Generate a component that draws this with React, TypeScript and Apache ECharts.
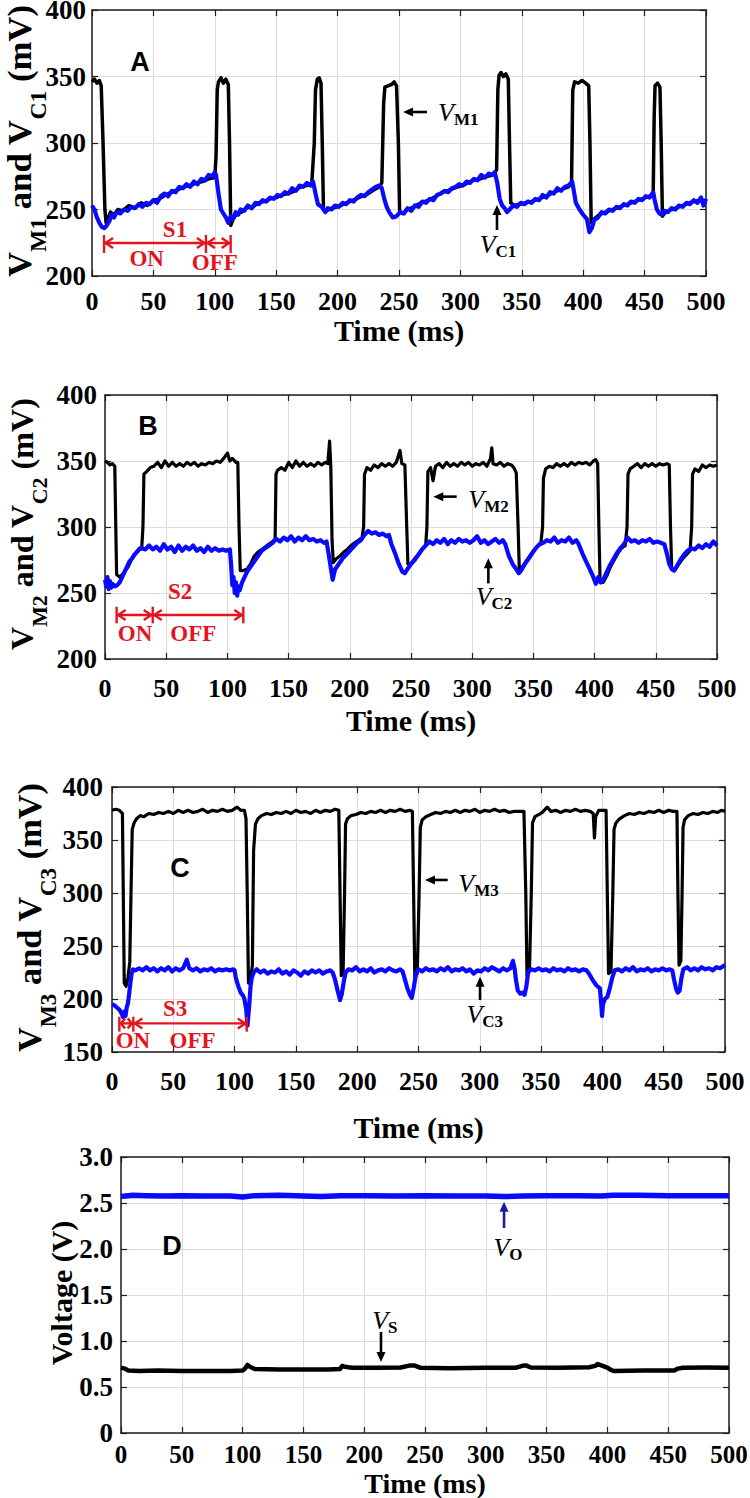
import React, { useEffect, useRef } from "react";
import * as echarts from "echarts";

const SERIF = "Liberation Serif";
const SANS = "Liberation Sans";

// ---------- axis ranges / ticks ----------
const timeRange = [0, 500];
const timeStep = 50;
const yRangeA = [200, 400, 50];
const yRangeB = [200, 400, 50];
const yRangeC = [150, 400, 50];
const yRangeD = [0, 3, 0.5];

// ---------- Panel A ----------
const vM1: [number, number][] = [
  [0, 346], [2, 348], [4, 345], [6, 347], [7.5, 343], [9, 300], [10.5, 250], [11.5, 240], [13, 243], [15, 248],
  [18, 246], [21, 250], [25, 249], [30, 253], [35, 251], [40, 255], [45, 253], [50, 257], [55, 258], [60, 261],
  [65, 263], [70, 265], [75, 267], [80, 268], [85, 270], [90, 271], [95, 273], [100, 274], [101, 290], [102, 340],
  [103, 346], [105, 349], [107, 345], [109, 348], [111, 344], [112, 300], [113, 238], [115, 243], [118, 247], [122, 248],
  [126, 252], [130, 251], [135, 255], [140, 256], [145, 258], [150, 259], [155, 261], [160, 262], [165, 264], [170, 267],
  [175, 268], [179, 270], [181, 300], [182, 340], [183.5, 348], [185, 349], [186.5, 345], [187.5, 300], [188.5, 250], [191, 249],
  [195, 251], [200, 252], [205, 254], [210, 256], [215, 258], [220, 260], [225, 262], [230, 265], [234, 267], [236, 270],
  [237.5, 330], [238.5, 342], [241, 343], [244, 344], [246, 346], [248, 343], [249.5, 300], [250.5, 248], [253, 247], [257, 250],
  [262, 252], [268, 255], [274, 257], [280, 260], [286, 263], [292, 265], [298, 267], [304, 269], [310, 272], [316, 273],
  [322, 275], [327, 276], [329.5, 280], [330.5, 340], [331.5, 351], [333, 353], [335, 350], [337, 352], [339, 348], [340, 300],
  [341, 255], [344, 253], [348, 254], [353, 255], [358, 256], [364, 258], [370, 260], [376, 263], [382, 265], [388, 267],
  [390.5, 270], [391.5, 340], [393, 346], [396, 345], [399, 347], [402, 345], [404.5, 343], [405.5, 300], [406.5, 240], [409, 243],
  [413, 246], [418, 248], [424, 250], [430, 252], [436, 254], [442, 256], [448, 258], [454, 260], [457, 262], [457.8, 320],
  [458.5, 343], [460.5, 345], [462.5, 342], [463.5, 300], [464.5, 245], [467, 248], [472, 250], [478, 252], [484, 254], [490, 256],
  [495, 257], [500, 256],
];
const vC1: [number, number][] = [
  [0, 253], [2, 250], [4, 244], [6, 240], [8, 237], [10, 236], [12, 238], [14, 241], [16, 246], [18, 244],
  [20, 248], [23, 247], [26, 250], [29, 249], [32, 252], [35, 251], [38, 254], [41, 252], [44, 255], [47, 254],
  [50, 257], [53, 255], [56, 260], [59, 262], [62, 260], [65, 264], [68, 263], [71, 267], [74, 266], [77, 269],
  [80, 267], [83, 271], [86, 269], [89, 273], [92, 272], [95, 276], [98, 275], [100, 278], [101, 276], [103, 262],
  [105, 250], [107, 247], [109, 244], [111, 240], [113, 245], [115, 243], [117, 248], [119, 246], [121, 250], [124, 249],
  [127, 253], [130, 251], [133, 255], [136, 254], [139, 257], [142, 256], [145, 259], [148, 258], [151, 261], [154, 260],
  [157, 263], [160, 262], [163, 266], [166, 264], [169, 268], [172, 267], [175, 270], [178, 268], [180, 271], [182, 262],
  [184, 254], [187, 252], [190, 248], [192, 251], [195, 250], [198, 253], [201, 252], [204, 255], [207, 254], [210, 257],
  [213, 256], [216, 259], [219, 261], [222, 260], [225, 263], [228, 265], [231, 267], [234, 268], [236, 266], [238, 258],
  [240, 252], [242, 248], [245, 244], [248, 245], [251, 248], [254, 247], [257, 251], [260, 249], [263, 253], [266, 252],
  [269, 256], [272, 255], [275, 258], [278, 257], [281, 261], [284, 262], [287, 264], [290, 263], [293, 266], [296, 267],
  [299, 269], [302, 268], [305, 271], [308, 270], [311, 273], [314, 272], [317, 276], [320, 274], [323, 277], [326, 276],
  [328, 278], [330, 270], [332, 258], [334, 253], [336, 251], [338, 248], [340, 250], [343, 253], [346, 252], [349, 255],
  [352, 254], [355, 256], [358, 255], [361, 258], [364, 257], [367, 261], [370, 259], [373, 263], [376, 262], [379, 266],
  [382, 264], [385, 267], [388, 268], [391, 271], [392, 266], [394, 255], [397, 250], [400, 246], [403, 243], [405, 233],
  [407, 236], [409, 242], [412, 244], [415, 248], [418, 247], [421, 250], [424, 249], [427, 252], [430, 251], [433, 254],
  [436, 253], [439, 256], [442, 255], [445, 258], [448, 257], [451, 260], [454, 259], [457, 263], [458, 258], [460, 250],
  [462, 247], [464, 246], [466, 249], [469, 248], [472, 251], [475, 250], [478, 253], [481, 252], [484, 255], [487, 254],
  [490, 257], [493, 255], [496, 259], [498, 253], [500, 258],
];

// ---------- Panel B ----------
const vM2: [number, number][] = [
  [0, 350], [2, 349], [4, 347], [6, 348], [8, 346], [8.8, 300], [9.5, 264], [12, 262], [14, 264], [16, 266],
  [19, 270], [22, 276], [25, 280], [28, 284], [30, 284], [31, 300], [31.8, 340], [34, 342], [37, 345], [40, 346],
  [43, 349], [46, 345], [49, 350], [52, 346], [55, 349], [58, 346], [61, 348], [64, 346], [67, 349], [70, 347],
  [73, 349], [76, 346], [79, 348], [82, 347], [85, 349], [88, 348], [91, 350], [94, 349], [97, 352], [100, 356],
  [102, 350], [104, 352], [107, 349], [108.5, 349], [109.5, 300], [110.5, 267], [113, 267], [116, 268], [119, 272], [122, 278],
  [125, 281], [128, 283], [131, 285], [134, 287], [137, 289], [139, 291], [139.7, 340], [141, 343], [144, 345], [147, 343],
  [150, 349], [153, 345], [156, 350], [159, 346], [162, 349], [165, 346], [168, 348], [171, 346], [174, 349], [177, 347],
  [180, 349], [182, 348], [183.5, 365], [184.5, 345], [185.5, 290], [186.5, 273], [189, 276], [192, 278], [195, 281], [198, 283],
  [201, 286], [204, 288], [207, 290], [210, 292], [211.3, 300], [212, 340], [214, 345], [217, 343], [220, 347], [223, 345],
  [226, 348], [229, 346], [232, 348], [235, 346], [238, 349], [241, 358], [242.5, 348], [245, 347], [246.5, 300], [247.5, 272],
  [250, 272], [253, 276], [256, 279], [259, 283], [262, 286], [263, 300], [263.8, 342], [266, 345], [268, 335], [270, 346],
  [273, 348], [276, 345], [279, 349], [282, 346], [285, 348], [288, 346], [291, 349], [294, 347], [297, 349], [300, 346],
  [303, 348], [306, 347], [309, 349], [312, 346], [315, 352], [316, 360], [317, 348], [320, 347], [323, 349], [326, 346],
  [329, 348], [332, 347], [334, 345], [336, 341], [337.5, 300], [338.5, 267], [341, 270], [344, 274], [347, 278], [350, 282],
  [353, 285], [356, 287], [357.5, 300], [358.2, 337], [360, 344], [363, 346], [366, 345], [369, 348], [372, 346], [375, 348],
  [378, 346], [381, 349], [384, 347], [387, 349], [390, 348], [393, 349], [396, 347], [399, 350], [401, 351], [402.5, 348],
  [403.5, 300], [404.5, 258], [407, 258], [410, 263], [413, 270], [416, 275], [419, 280], [422, 284], [425, 286], [426.5, 300],
  [427.3, 340], [429, 344], [432, 346], [435, 348], [438, 345], [441, 348], [444, 346], [447, 348], [450, 346], [453, 348],
  [456, 347], [459, 348], [461, 347], [462, 300], [463, 268], [466, 268], [469, 272], [472, 276], [475, 279], [478, 282],
  [479.3, 300], [480, 340], [482, 344], [485, 342], [488, 347], [491, 345], [494, 347], [497, 346], [500, 347],
];
const vC2: [number, number][] = [
  [0, 260], [1, 255], [2, 262], [3, 253], [4, 259], [5, 254], [6, 257], [8, 255], [10, 256], [12, 258],
  [14, 262], [16, 266], [18, 270], [20, 274], [22, 276], [24, 279], [26, 281], [28, 283], [30, 284], [33, 283],
  [36, 286], [39, 283], [42, 285], [45, 282], [48, 287], [51, 283], [54, 285], [57, 281], [60, 286], [63, 282],
  [66, 285], [69, 283], [72, 286], [75, 282], [78, 284], [81, 281], [84, 285], [87, 282], [90, 284], [93, 282],
  [96, 283], [99, 282], [102, 283], [103, 272], [104, 256], [105, 262], [106, 250], [107, 258], [108, 248], [109, 255],
  [110, 252], [112, 258], [114, 262], [116, 266], [119, 270], [122, 274], [125, 278], [128, 282], [131, 284], [134, 286],
  [137, 288], [140, 291], [143, 289], [146, 292], [149, 290], [152, 293], [155, 289], [158, 292], [161, 290], [164, 293],
  [167, 290], [170, 291], [173, 289], [176, 290], [179, 288], [181, 289], [183, 278], [185, 266], [186, 260], [188, 268],
  [191, 272], [194, 276], [197, 279], [200, 282], [203, 285], [206, 288], [209, 290], [212, 294], [215, 297], [218, 295],
  [221, 296], [224, 294], [227, 295], [230, 293], [232, 294], [234, 287], [237, 280], [240, 272], [243, 266], [245, 265],
  [247, 268], [250, 272], [253, 275], [256, 279], [259, 283], [262, 286], [265, 289], [268, 287], [271, 290], [274, 288],
  [277, 291], [280, 287], [283, 290], [286, 288], [289, 291], [292, 289], [295, 290], [298, 288], [301, 290], [304, 293],
  [307, 288], [310, 290], [313, 287], [316, 289], [319, 291], [322, 288], [325, 290], [327, 287], [330, 278], [333, 272],
  [336, 268], [338, 265], [340, 267], [343, 272], [346, 276], [349, 280], [352, 284], [355, 287], [358, 288], [361, 290],
  [364, 289], [367, 292], [370, 288], [373, 290], [376, 289], [379, 292], [382, 288], [385, 290], [387, 287], [390, 280],
  [393, 274], [396, 268], [399, 262], [401, 257], [403, 262], [405, 258], [407, 260], [409, 264], [412, 270], [415, 275],
  [418, 280], [421, 284], [424, 287], [427, 292], [430, 289], [433, 290], [436, 288], [439, 290], [442, 289], [445, 291],
  [448, 288], [451, 289], [454, 288], [457, 287], [459, 280], [461, 272], [463, 268], [465, 267], [467, 270], [470, 275],
  [473, 279], [476, 282], [479, 284], [482, 283], [485, 286], [488, 284], [491, 287], [494, 285], [497, 289], [500, 286],
];

// ---------- Panel C ----------
const vM3: [number, number][] = [
  [0, 378], [3, 379], [6, 378], [8.5, 375], [9.2, 300], [10, 215], [11.5, 212], [13, 220], [14.5, 235], [15.5, 300],
  [16.5, 360], [18, 366], [20, 370], [23, 373], [26, 372], [30, 375], [34, 374], [38, 376], [42, 375], [46, 377],
  [50, 375], [54, 378], [58, 376], [62, 378], [66, 376], [70, 377], [74, 379], [78, 376], [82, 378], [86, 377],
  [90, 379], [94, 377], [98, 378], [102, 381], [105, 378], [108, 378], [109.3, 370], [110.3, 300], [111.3, 215], [113, 218],
  [114.5, 232], [115.5, 340], [117, 365], [119, 370], [122, 373], [126, 375], [130, 374], [134, 376], [138, 375], [142, 377],
  [146, 375], [150, 378], [154, 376], [158, 377], [162, 375], [166, 378], [170, 376], [174, 378], [178, 377], [182, 379],
  [185, 378], [186, 300], [187, 222], [188.5, 224], [189.7, 300], [190.5, 365], [192, 370], [195, 373], [199, 374], [203, 376],
  [207, 375], [211, 377], [215, 376], [219, 378], [223, 376], [227, 378], [231, 377], [235, 379], [239, 377], [243, 378],
  [245, 377], [246, 300], [247, 221], [249, 224], [250.5, 300], [251.5, 362], [253, 369], [256, 372], [260, 374], [264, 376],
  [268, 375], [272, 377], [276, 376], [280, 378], [284, 376], [288, 378], [292, 377], [296, 379], [300, 376], [304, 378],
  [308, 377], [312, 379], [316, 377], [320, 378], [324, 376], [328, 377], [332, 377], [336, 377], [337.5, 300], [338.5, 222],
  [340.5, 226], [342, 300], [343, 366], [345, 372], [348, 374], [351, 376], [355, 381], [358, 377], [362, 378], [366, 376],
  [370, 378], [374, 377], [378, 379], [382, 377], [386, 378], [390, 377], [392.5, 375], [393.5, 352], [394.5, 372], [397, 378],
  [401, 378], [403, 378], [404, 300], [405, 224], [407, 226], [408.5, 300], [409.5, 360], [411, 366], [414, 370], [418, 373],
  [422, 375], [426, 374], [430, 376], [434, 375], [438, 377], [442, 376], [446, 378], [450, 376], [454, 378], [458, 377],
  [460.8, 377], [461.6, 300], [462.5, 232], [464, 236], [465, 300], [465.8, 362], [467, 369], [470, 373], [474, 375], [478, 374],
  [482, 376], [486, 375], [490, 377], [494, 376], [497, 378], [500, 377],
];
const vC3: [number, number][] = [
  [0, 195], [2, 194], [4, 192], [6, 190], [8, 186], [9, 183], [10, 188], [11, 184], [12, 192], [13, 196],
  [14, 205], [15, 215], [16, 224], [17, 228], [19, 227], [22, 229], [25, 227], [28, 230], [31, 227], [34, 229],
  [37, 226], [40, 229], [43, 227], [46, 230], [49, 226], [52, 229], [55, 227], [58, 229], [61, 237], [63, 229],
  [66, 227], [69, 229], [72, 226], [75, 228], [78, 227], [81, 229], [84, 226], [87, 228], [90, 227], [93, 228],
  [96, 227], [99, 228], [100, 227], [101, 220], [103, 212], [105, 206], [107, 203], [108, 200], [109.5, 190], [110.5, 175],
  [112, 195], [113, 212], [114, 220], [115.5, 225], [118, 228], [121, 225], [124, 227], [127, 224], [130, 226], [133, 225],
  [136, 228], [139, 224], [142, 226], [145, 223], [148, 227], [151, 225], [154, 222], [157, 226], [160, 224], [163, 227],
  [166, 225], [169, 227], [172, 224], [175, 226], [178, 227], [180, 225], [182, 218], [184, 208], [186, 199], [187.5, 205],
  [189, 216], [190.5, 225], [193, 228], [196, 227], [199, 230], [202, 226], [205, 228], [208, 226], [211, 229], [214, 225],
  [217, 227], [220, 228], [223, 226], [226, 229], [229, 227], [232, 226], [235, 228], [237, 226], [239, 218], [241, 210],
  [243, 204], [244.5, 201], [246, 210], [248, 224], [250, 228], [253, 226], [256, 229], [259, 227], [262, 228], [265, 226],
  [268, 229], [271, 227], [274, 230], [277, 226], [280, 228], [283, 227], [286, 229], [289, 226], [292, 228], [295, 224],
  [298, 227], [301, 226], [304, 229], [307, 227], [310, 230], [313, 228], [316, 226], [319, 229], [322, 227], [325, 229],
  [327, 236], [328.5, 228], [329.5, 218], [331, 208], [333, 205], [335, 206], [336.5, 204], [338, 212], [339.5, 226], [342, 228],
  [345, 227], [348, 229], [351, 227], [354, 228], [357, 226], [360, 229], [363, 227], [366, 228], [369, 226], [372, 229],
  [375, 227], [378, 228], [381, 226], [384, 228], [387, 227], [389, 224], [392, 218], [395, 213], [398, 210], [399, 196],
  [399.7, 184], [400.5, 195], [402, 200], [404, 202], [406, 210], [408, 220], [410, 227], [413, 228], [416, 226], [419, 229],
  [422, 227], [425, 230], [428, 226], [431, 228], [434, 227], [437, 229], [440, 226], [443, 228], [446, 227], [449, 229],
  [452, 227], [455, 228], [457, 227], [458.5, 218], [460, 210], [461.5, 206], [463, 208], [464.5, 220], [466, 228], [469, 230],
  [472, 227], [475, 229], [478, 227], [481, 230], [484, 228], [487, 229], [490, 227], [493, 230], [496, 229], [500, 232],
];

// ---------- Panel D ----------
const vS: [number, number][] = [
  [0, 0.71], [3, 0.7], [6, 0.68], [15, 0.675], [30, 0.678], [50, 0.675], [70, 0.675], [90, 0.675], [100, 0.678], [102, 0.7],
  [104, 0.74], [106, 0.72], [110, 0.695], [130, 0.69], [150, 0.69], [170, 0.69], [180, 0.695], [182, 0.73], [184, 0.72], [190, 0.71],
  [210, 0.71], [230, 0.712], [238, 0.735], [241, 0.735], [246, 0.71], [270, 0.705], [300, 0.71], [325, 0.71], [330, 0.73], [333, 0.735],
  [337, 0.712], [360, 0.71], [385, 0.715], [390, 0.73], [392, 0.75], [396, 0.73], [400, 0.71], [403, 0.685], [405, 0.675], [430, 0.68],
  [455, 0.68], [458, 0.7], [462, 0.71], [480, 0.712], [500, 0.71],
];
const vO: [number, number][] = [
  [0, 2.57], [10, 2.585], [20, 2.58], [35, 2.575], [50, 2.58], [70, 2.575], [90, 2.575], [100, 2.565], [110, 2.58], [130, 2.585],
  [150, 2.575], [165, 2.57], [180, 2.58], [200, 2.58], [225, 2.575], [250, 2.58], [275, 2.575], [300, 2.575], [315, 2.57], [330, 2.575],
  [350, 2.58], [375, 2.58], [395, 2.575], [405, 2.585], [425, 2.585], [450, 2.58], [470, 2.58], [490, 2.58], [500, 2.58],
];

// ---------- layout / style config ----------
const BLUE = "#0a0aff";
const RED = "#e3141e";
const AXIS = "#1e1e1e";

const panels = [
  { letter: "A", grid: { left: 92, top: 10, width: 614, height: 266 }, yr: yRangeA, xMargin: 10, yMargin: 6, nameGap: 39, xFont: 26, xLH: 30, axisName: true,
    series: [{ data: vM1, color: "#000", width: 3.5 }, { data: vC1, color: BLUE, width: 4.2 }], sub: ["M1", "C1"],
    title: { x: 19, y0: 277, y1: 5 } },
  { letter: "B", grid: { left: 105, top: 395, width: 612, height: 264 }, yr: yRangeB, xMargin: 14, yMargin: 8, nameGap: 46, xFont: 26, xLH: 30, axisName: true,
    series: [{ data: vM2, color: "#000", width: 3.2 }, { data: vC2, color: BLUE, width: 4.2 }], sub: ["M2", "C2"],
    title: { x: 22, y0: 650, y1: 398 } },
  { letter: "C", grid: { left: 112, top: 787, width: 613, height: 265 }, yr: yRangeC, xMargin: 14, yMargin: 9, nameGap: 60, xFont: 26, xLH: 30, axisName: true,
    series: [{ data: vM3, color: "#000", width: 3.2 }, { data: vC3, color: BLUE, width: 4.2 }], sub: ["M3", "C3"],
    title: { x: 29, y0: 1052, y1: 783 } },
  { letter: "D", grid: { left: 121, top: 1157, width: 608, height: 276 }, yr: yRangeD, xMargin: 11, yMargin: 8, nameGap: 35, xFont: 25, xLH: 20, axisName: false,
    series: [{ data: vS, color: "#000", width: 4.5 }, { data: vO, color: BLUE, width: 5.5 }], sub: null, title: null },
];
const timeName = "Time (ms)";

function buildOption() {
  const grid: any[] = [];
  const xAxis: any[] = [];
  const yAxis: any[] = [];
  const series: any[] = [];
  const lineStyle = { color: AXIS, width: 1.5 };
  const tickStyle = { show: true, inside: true, length: 6, lineStyle: { color: AXIS, width: 1.2 } };
  panels.forEach((p, i) => {
    grid.push({ ...p.grid, containLabel: false, outerBoundsMode: "none", show: false });
    const isD = i === 3;
    xAxis.push({
      gridIndex: i, type: "value", position: "bottom", min: timeRange[0], max: timeRange[1], interval: timeStep,
      name: p.axisName ? timeName : "", nameLocation: "middle", nameGap: p.nameGap, nameMoveOverlap: false,
      nameTextStyle: { fontFamily: SERIF, fontWeight: "bold", fontSize: 30, color: "#000", lineHeight: 30 },
      axisLine: { show: true, onZero: false, lineStyle },
      axisTick: tickStyle,
      axisLabel: { show: true, margin: p.xMargin, fontFamily: SERIF, fontWeight: "bold", fontSize: p.xFont, lineHeight: p.xLH, color: "#000",
        hideOverlap: false, showMinLabel: true, showMaxLabel: true },
      splitLine: { show: true, lineStyle: { color: "#dcdcdc", width: 1 } },
    });
    xAxis.push({
      gridIndex: i, type: "value", position: "top", min: timeRange[0], max: timeRange[1], interval: timeStep,
      axisLine: { show: true, onZero: false, lineStyle }, axisTick: tickStyle,
      axisLabel: { show: false }, splitLine: { show: false },
    });
    yAxis.push({
      gridIndex: i, type: "value", position: "left", min: p.yr[0], max: p.yr[1], interval: p.yr[2],
      axisLine: { show: true, onZero: false, lineStyle }, axisTick: tickStyle,
      axisLabel: { show: true, margin: p.yMargin, fontFamily: SERIF, fontWeight: "bold", fontSize: 27, lineHeight: 20, color: "#000",
        hideOverlap: false, showMinLabel: true, showMaxLabel: true,
        formatter: isD ? (v: number) => (v === 0 ? "0" : v.toFixed(1)) : (v: number) => String(v) },
      splitLine: { show: true, lineStyle: { color: "#dcdcdc", width: 1 } },
    });
    yAxis.push({
      gridIndex: i, type: "value", position: "right", min: p.yr[0], max: p.yr[1], interval: p.yr[2],
      axisLine: { show: true, onZero: false, lineStyle }, axisTick: tickStyle,
      axisLabel: { show: false }, splitLine: { show: false },
    });
    p.series.forEach((s, k) => {
      series.push({
        type: "line", xAxisIndex: 2 * i, yAxisIndex: 2 * i, data: s.data, showSymbol: false, symbol: "none",
        silent: true, clip: true, z: 2 + k,
        lineStyle: { color: s.color, width: s.width, join: "round" }, itemStyle: { color: s.color },
      });
    });
  });
  return { animation: false, backgroundColor: "#fff", textStyle: { fontFamily: SERIF }, grid, xAxis, yAxis, series };
}

function measure(text: string, size: number) {
  const c = document.createElement("canvas").getContext("2d");
  if (!c) return text.length * size * 0.5;
  c.font = `bold ${size}px "${SERIF}"`;
  return c.measureText(text).width;
}

function buildGraphic(chart: any) {
  const els: any[] = [];
  const P = (s: number, t: number, v: number) => chart.convertToPixel({ seriesIndex: s }, [t, v]) as number[];

  const arrow = (from: number[], to: number[], color: string, lw = 2.6, head = 10, half = 4.5) => {
    const dx = to[0] - from[0], dy = to[1] - from[1];
    const L = Math.hypot(dx, dy); const ux = dx / L, uy = dy / L;
    const bx = to[0] - ux * head, by = to[1] - uy * head;
    els.push({ type: "line", silent: true, z: 50, shape: { x1: from[0], y1: from[1], x2: bx + ux * 1, y2: by + uy * 1 }, style: { stroke: color, lineWidth: lw } });
    els.push({ type: "polygon", silent: true, z: 50, shape: { points: [[to[0], to[1]], [bx - uy * half, by + ux * half], [bx + uy * half, by - ux * half]] }, style: { fill: color } });
  };
  const subText = (pos: number[], main: string, sub: string, align: string, color = "#000") => {
    els.push({ type: "text", silent: true, z: 50, x: pos[0], y: pos[1], style: {
      text: `{v|${main}}{s|${sub}}`, align, verticalAlign: "middle",
      rich: {
        v: { fontFamily: SERIF, fontStyle: "italic", fontSize: 26, fill: color },
        s: { fontFamily: SERIF, fontWeight: "bold", fontSize: 17, fill: color, padding: [14, 0, 0, 0] },
      } } });
  };
  const redText = (pos: number[], text: string) => {
    els.push({ type: "text", silent: true, z: 50, x: pos[0], y: pos[1], style: { text, fill: RED, fontFamily: SERIF, fontWeight: "bold", fontSize: 23, align: "center", verticalAlign: "middle" } });
  };
  const spans = (s: number, ts: number[], v: number, vTop: number, vBot: number) => {
    const pts = ts.map((t) => P(s, t, v));
    const top = P(s, 0, vTop)[1], bot = P(s, 0, vBot)[1];
    pts.forEach((p) => els.push({ type: "line", silent: true, z: 50, shape: { x1: p[0], y1: top, x2: p[0], y2: bot }, style: { stroke: RED, lineWidth: 2.4 } }));
    for (let i = 0; i < pts.length - 1; i++) {
      const a = pts[i], b = pts[i + 1];
      els.push({ type: "line", silent: true, z: 50, shape: { x1: a[0] + 1, y1: a[1], x2: b[0] - 1, y2: b[1] }, style: { stroke: RED, lineWidth: 2.4 } });
      const ch = Math.min(8, (b[0] - a[0]) / 3);
      els.push({ type: "polyline", silent: true, z: 50, shape: { points: [[a[0] + ch + 1, a[1] - 5], [a[0] + 1.5, a[1]], [a[0] + ch + 1, a[1] + 5]] }, style: { stroke: RED, lineWidth: 2.4, fill: null } });
      els.push({ type: "polyline", silent: true, z: 50, shape: { points: [[b[0] - ch - 1, b[1] - 5], [b[0] - 1.5, b[1]], [b[0] - ch - 1, b[1] + 5]] }, style: { stroke: RED, lineWidth: 2.4, fill: null } });
    }
  };

  // Panel A
  arrow(P(0, 272.8, 323.3), P(0, 253.3, 323.3), "#000");
  subText(P(0, 281.8, 323), "V", "M1", "left");
  arrow(P(0, 329.8, 234.6), P(0, 329.8, 253.4), "#000");
  subText(P(0, 330.6, 224), "V", "C1", "center");
  spans(0, [9.8, 92.8, 112.9], 224.8, 230.8, 217.3);
  redText(P(0, 67.6, 234.6), "S1");
  redText(P(0, 44.5, 213.5), "ON");
  redText(P(0, 100, 210.5), "OFF");

  // Panel B
  arrow(P(2, 287.3, 323), P(2, 268.2, 323), "#000");
  subText(P(2, 296.8, 320.5), "V", "M2", "left");
  arrow(P(2, 313.2, 257.3), P(2, 313.2, 276.3), "#000");
  subText(P(2, 317.8, 247.5), "V", "C2", "center");
  spans(2, [9.5, 39, 113], 233.3, 239.6, 227);
  redText(P(2, 61.3, 251), "S2");
  redText(P(2, 24.5, 219.4), "ON");
  redText(P(2, 72.2, 219.4), "OFF");

  // Panel C
  arrow(P(4, 273.8, 312.3), P(4, 255.3, 312.3), "#000");
  subText(P(4, 282.5, 309), "V", "M3", "left");
  arrow(P(4, 300.2, 199), P(4, 300.2, 221), "#000");
  subText(P(4, 304, 185), "V", "C3", "center");
  spans(4, [6, 17.4, 109.9], 177, 183.3, 169.2);
  redText(P(4, 51.4, 191.2), "S3");
  redText(P(4, 17.1, 161.3), "ON");
  redText(P(4, 65.7, 161.3), "OFF");

  // Panel D
  arrow(P(6, 315, 2.228), P(6, 315, 2.514), "#1c1c9a");
  subText(P(6, 318.3, 2.02), "V", "O", "center");
  arrow(P(6, 213.8, 1.098), P(6, 213.8, 0.772), "#000");
  subText(P(6, 217, 1.228), "V", "S", "center");
  // Panel D x-axis title, placed under its tick labels
  const dMid = P(6, 250, 0);
  els.push({ type: "text", silent: true, z: 50, x: dMid[0], y: dMid[1] + 50, style: { text: timeName, fill: "#000", fontFamily: SERIF, fontWeight: "bold", fontSize: 28, lineHeight: 22, align: "center", verticalAlign: "middle" } });

  // Panel letters
  const letters = [[140, 62], [148, 426], [180, 868], [172, 1246]];
  panels.forEach((p, i) => {
    els.push({ type: "text", silent: true, z: 50, x: letters[i][0], y: letters[i][1], style: { text: p.letter, fill: "#000", fontFamily: SANS, fontWeight: "bold", fontSize: 27, align: "center", verticalAlign: "middle" } });
  });

  // Rotated y-axis titles built from measured pieces (main text + lowered subscripts)
  panels.slice(0, 3).forEach((p) => {
    const [m, c] = p.sub as string[];
    const t = p.title as { x: number; y0: number; y1: number };
    const pieces = [
      { s: "V", sub: false }, { s: m, sub: true }, { s: " and V", sub: false }, { s: c, sub: true }, { s: " (mV)", sub: false },
    ];
    const base = 33;
    const w0 = pieces.reduce((acc, q) => acc + measure(q.s, q.sub ? base * 0.68 : base), 0);
    const scale = (t.y0 - t.y1) / w0;
    const fm = base * scale, fs = base * 0.68 * scale;
    let y = t.y0;
    pieces.forEach((q) => {
      const f = q.sub ? fs : fm;
      const w = measure(q.s, f);
      const x = q.sub ? t.x + 0.34 * fm + 15 - 0.34 * fs : t.x;
      els.push({ type: "text", silent: true, z: 50, x, y, rotation: Math.PI / 2, style: {
        text: q.s, fill: "#000", fontFamily: SERIF, fontWeight: "bold", fontSize: f, lineHeight: f,
        align: "left", verticalAlign: "middle" } });
      y -= w;
    });
  });
  els.push({ type: "text", silent: true, z: 50, x: 61, y: 1293, rotation: Math.PI / 2, style: { text: "Voltage (V)", fill: "#000", fontFamily: SERIF, fontWeight: "bold", fontSize: 30, lineHeight: 30, align: "center", verticalAlign: "middle" } });
  return els;
}

export default function App() {
  const ref = useRef<HTMLDivElement>(null);
  useEffect(() => {
    const el = ref.current;
    if (!el) return;
    const chart = echarts.init(el, null, { renderer: "svg", width: 750, height: 1498 });
    chart.setOption(buildOption() as any);
    chart.setOption({ graphic: buildGraphic(chart) } as any);
    return () => chart.dispose();
  }, []);
  return <div ref={ref} style={{ position: "absolute", left: 0, top: 0, width: 750, height: 1498, background: "#fff" }} />;
}
